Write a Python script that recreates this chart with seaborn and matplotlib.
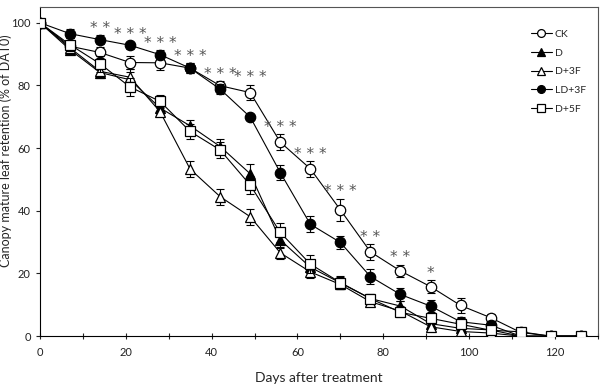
import numpy as np
import pandas as pd
import seaborn as sns
import matplotlib.pyplot as plt
from matplotlib.ticker import MultipleLocator

# days after treatment
days = [0, 7, 14, 21, 28, 35, 42, 49, 56, 63, 70, 77, 84, 91, 98, 105, 112, 119, 126]

ck = [100, 92.5, 90.5, 87.3, 87.2, 85.5, 79.9, 77.7, 61.9, 53.4, 40.3, 26.9, 20.8, 15.8, 9.8, 5.9, 1.2, 0, 0]
d = [100, 91.4, 84.1, 81.8, 72.8, 67.1, 60.5, 51.8, 30.7, 22.0, 17.0, 12.0, 9.6, 4.0, 2.5, 2.0, 0, 0, 0]
d3f = [100, 92.0, 84.5, 82.6, 71.6, 53.3, 44.5, 38.1, 26.6, 20.5, 16.5, 11.0, 8.0, 3.0, 1.5, 1.0, 0, 0, 0]
ld3f = [100, 96.5, 94.6, 92.8, 89.8, 85.5, 78.8, 69.9, 52.2, 35.7, 29.9, 19.0, 13.3, 9.6, 4.6, 3.5, 0, 0, 0]
d5f = [100, 93.0, 86.9, 79.5, 74.9, 65.3, 59.4, 48.2, 33.1, 23.0, 17.1, 12.0, 7.6, 5.7, 3.8, 1.9, 1.4, 0, 0]

ck_se = [0, 1.5, 1.8, 2.0, 2.2, 1.5, 1.5, 2.5, 2.5, 2.5, 3.5, 2.5, 2.0, 2.0, 2.5, 1.2, 0.5, 0, 0]
d_se = [0, 1.5, 1.5, 2.5, 2.0, 2.0, 2.5, 3.0, 2.5, 2.0, 2.0, 1.5, 1.5, 1.0, 1.0, 1.0, 0.3, 0, 0]
d3f_se = [0, 1.5, 2.0, 2.5, 1.5, 2.5, 2.5, 2.5, 2.0, 2.0, 1.5, 1.5, 1.5, 1.0, 0.5, 0.5, 0.3, 0, 0]
ld3f_se = [0, 1.5, 1.5, 1.2, 1.5, 1.5, 1.5, 1.0, 2.5, 2.5, 2.0, 2.5, 2.0, 2.0, 1.5, 1.5, 0.5, 0, 0]
d5f_se = [0, 2.0, 2.5, 3.0, 2.0, 2.5, 2.5, 3.0, 3.0, 3.0, 2.0, 1.5, 1.5, 1.0, 1.0, 1.0, 0.5, 0, 0]

# significance marks
sig_days = [14, 21, 28, 35, 42, 49, 56, 63, 70, 77, 84, 91]
sig_marks = ['* *', '* * *', '* * *', '* * *', '* * *', '* * *', '* * *', '* * *', '* * *', '* *', '* *', '*']

series = [
    ('CK', ck, ck_se, 'o', 'white'),
    ('D', d, d_se, '^', 'black'),
    ('D+3F', d3f, d3f_se, '^', 'white'),
    ('LD+3F', ld3f, ld3f_se, 'o', 'black'),
    ('D+5F', d5f, d5f_se, 's', 'white'),
]

sns.set_theme(style='white')
plt.rcParams['font.family'] = ['Lato', 'DejaVu Sans']

fig = plt.figure(figsize=(6.04, 3.9), dpi=100)
ax = fig.add_axes([0.066, 0.138, 0.924, 0.844])

for i, (name, vals, se, mk, fc) in enumerate(series):
    df = pd.DataFrame({'day': days, 'val': vals})
    ax.errorbar(days, vals, yerr=se, fmt='none', ecolor='black', elinewidth=0.8,
                capsize=3, capthick=0.8, zorder=2 + i)
    sns.lineplot(data=df, x='day', y='val', ax=ax, color='black', linewidth=0.8,
                 marker=mk, markersize=7.5 if mk != 's' else 7, markerfacecolor=fc,
                 markeredgecolor='black', markeredgewidth=0.9, label=name, zorder=3 + i)

# asterisks above the highest error bar at each day
tops = np.max([np.array(v) + np.array(s) for _, v, s, _, _ in series], axis=0)
for dd, mark in zip(sig_days, sig_marks):
    y = tops[days.index(dd)] + 2.2
    ax.text(dd, y, mark, ha='center', va='center', fontsize=11, color='#555555',
            family='DejaVu Sans')

ax.set_xlim(0, 130)
ax.set_ylim(0, 105)
ax.set_xticks(range(0, 121, 20))
ax.xaxis.set_minor_locator(MultipleLocator(10))
ax.set_yticks(range(0, 101, 20))
ax.tick_params(axis='x', which='both', direction='inout', length=4, width=0.8,
               bottom=True, labelsize=8, pad=6, colors='#222222')
ax.tick_params(axis='y', which='both', direction='out', length=3, width=0.8,
               left=True, labelsize=8, colors='#222222')

for sp in ax.spines.values():
    sp.set_color('#555555')
    sp.set_linewidth(0.8)
ax.spines['bottom'].set_color('black')
ax.spines['left'].set_color('black')

ax.set_xlabel('Days after treatment', fontsize=10, labelpad=10)
ax.set_ylabel('Canopy mature leaf retention (% of DAT0)', fontsize=9)
ax.yaxis.set_label_coords(-0.05, 0.565)

leg = ax.legend(loc='upper right', bbox_to_anchor=(0.995, 0.96), frameon=False,
                fontsize=7.5, handlelength=2.0, labelspacing=0.9, handletextpad=0.3,
                markerscale=0.75)

fig.savefig('out.png', dpi=100)
